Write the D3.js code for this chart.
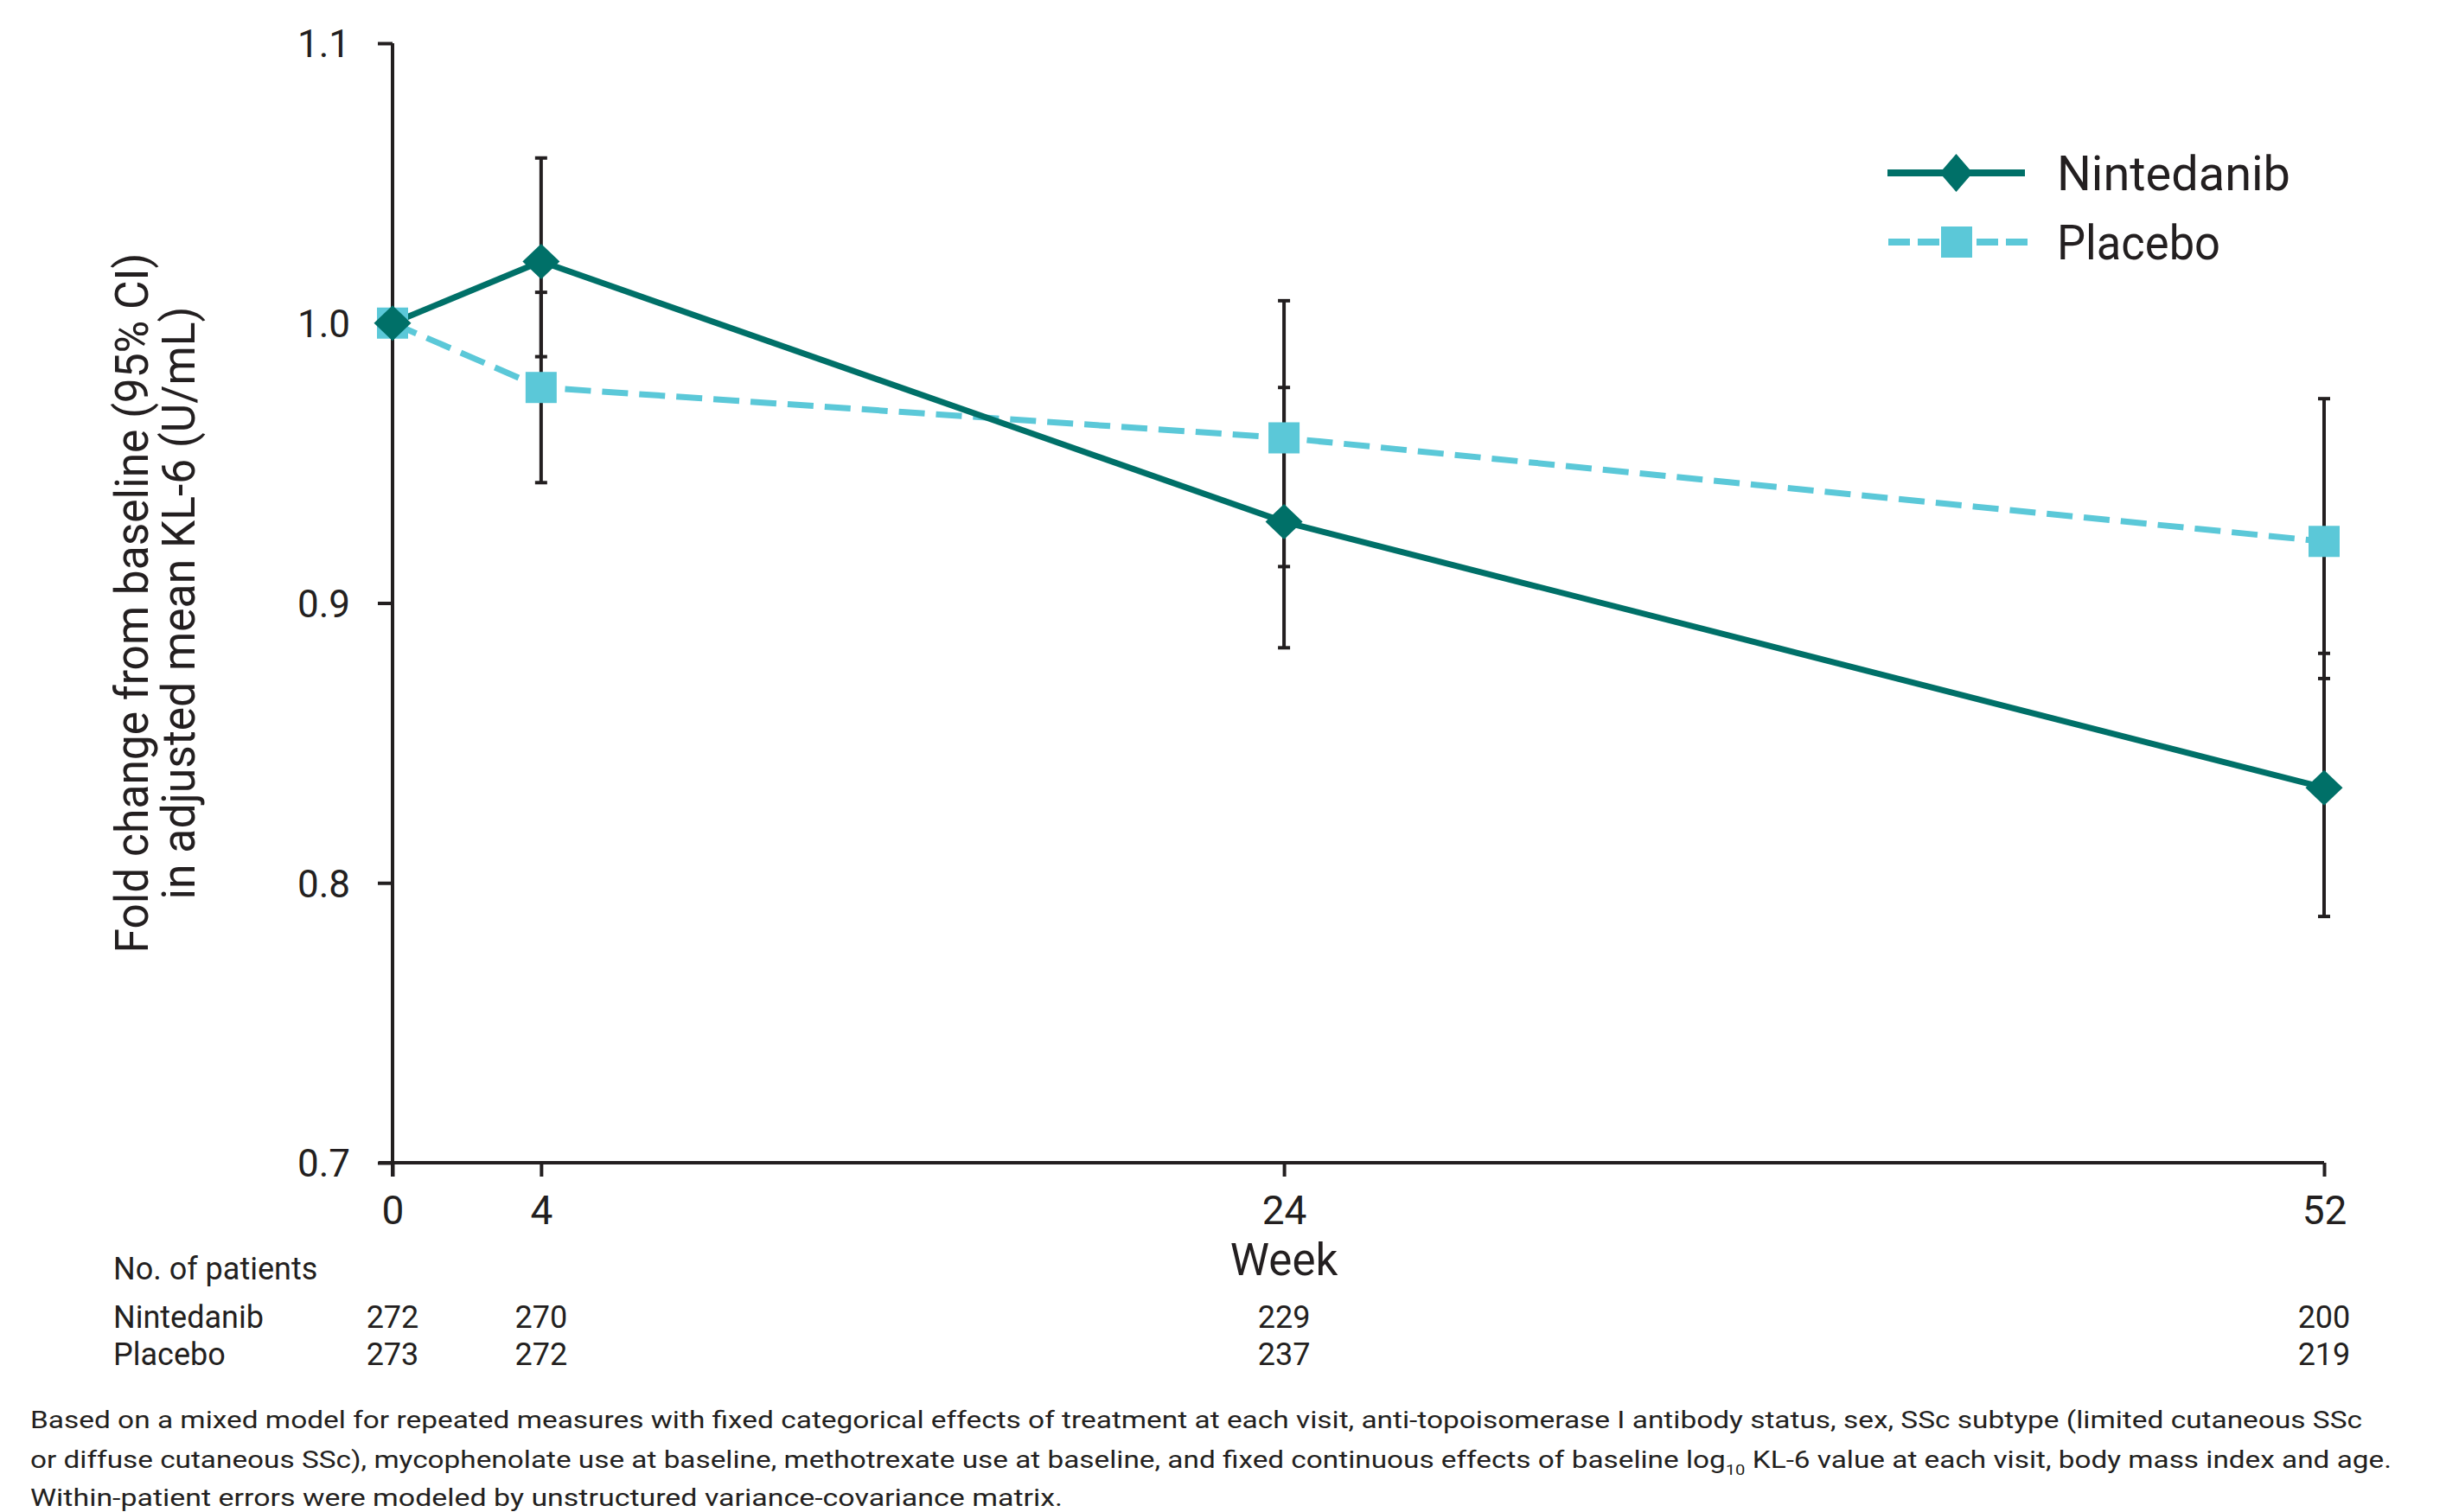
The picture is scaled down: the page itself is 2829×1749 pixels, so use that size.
<!DOCTYPE html>
<html>
<head>
<meta charset="utf-8">
<script src="https://cdn.jsdelivr.net/npm/d3@7"></script>
<style>
  html, body { margin: 0; padding: 0; background: #fff; }
  svg { display: block; font-family: Roboto, "Noto Sans", sans-serif; }
</style>
</head>
<body>
<svg id="chart" width="2829" height="1749"></svg>
<script>
// Visit weeks and adjusted mean fold change in KL-6 with 95% CI
const weeks = [0, 4, 24, 52];
const nintedanibMean  = [1.0, 1.022, 0.929, 0.834];
const nintedanibLower = [null, 0.988, 0.884, 0.788];
const nintedanibUpper = [null, 1.059, 0.977, 0.882];
const placeboMean  = [1.0, 0.977, 0.959, 0.922];
const placeboLower = [null, 0.943, 0.913, 0.873];
const placeboUpper = [null, 1.011, 1.008, 0.973];

// Patients at risk per visit
const nintedanibN = [272, 270, 229, 200];
const placeboN    = [273, 272, 237, 219];

const yTicks = [0.7, 0.8, 0.9, 1.0, 1.1];
const seriesNames = ["Nintedanib", "Placebo"];

const footnoteLines = [
  "Based on a mixed model for repeated measures with fixed categorical effects of treatment at each visit, anti-topoisomerase I antibody status, sex, SSc subtype (limited cutaneous SSc",
  ["or diffuse cutaneous SSc), mycophenolate use at baseline, methotrexate use at baseline, and fixed continuous effects of baseline log", "10", " KL-6 value at each visit, body mass index and age."],
  "Within-patient errors were modeled by unstructured variance-covariance matrix."
];

const INK = "#231f20";
const TEAL = "#007068";
const CYAN = "#5bc8d8";

const svg = d3.select("#chart");

const x = d3.scaleLinear().domain([0, 52]).range([454, 2688]);
const y = d3.scaleLinear().domain([0.7, 1.1]).range([1345, 50]);

// ---- Axes ----
const yAxis = d3.axisLeft(y).tickValues(yTicks).tickFormat(d3.format(".1f"))
  .tickSize(17).tickSizeOuter(0).tickPadding(32);
const gy = svg.append("g").attr("transform", `translate(${x(0)},0)`).call(yAxis);
gy.select(".domain").remove();
gy.append("line").attr("x1", 0).attr("x2", 0).attr("y1", y(1.1)).attr("y2", y(0.7) + 16)
  .attr("stroke", INK).attr("stroke-width", 4);
gy.selectAll(".tick line").attr("stroke", INK).attr("stroke-width", 4);
gy.selectAll(".tick text").attr("fill", INK).attr("font-size", 44)
  .attr("font-family", "Roboto").attr("dy", "0.36em");

const xAxis = d3.axisBottom(x).tickValues(weeks).tickFormat(d3.format("d"))
  .tickSize(16).tickSizeOuter(0).tickPadding(22);
const gx = svg.append("g").attr("transform", `translate(0,${y(0.7)})`).call(xAxis);
gx.select(".domain").remove();
gx.append("line").attr("x1", x(0) - 16).attr("x2", x(52)).attr("y1", 0).attr("y2", 0)
  .attr("stroke", INK).attr("stroke-width", 4);
gx.selectAll(".tick line").attr("stroke", INK).attr("stroke-width", 4);
gx.selectAll(".tick text").attr("fill", INK).attr("font-size", 46)
  .attr("font-family", "Roboto").attr("dy", "0.71em");

svg.append("text").attr("x", x(24)).attr("y", 1475).attr("text-anchor", "middle")
  .attr("font-size", 51).attr("fill", INK).text("Week");

// Y axis title (two rotated lines)
const yTitle = [
  { text: "Fold change from baseline (95% CI)", bx: 171, len: 810 },
  { text: "in adjusted mean KL-6 (U/mL)", bx: 225, len: 686 }
];
yTitle.forEach(t => {
  svg.append("text")
    .attr("transform", `translate(${t.bx},${(y(0.7) + y(1.1)) / 2}) rotate(-90)`)
    .attr("text-anchor", "middle").attr("font-size", 54).attr("fill", INK)
    .attr("textLength", t.len).attr("lengthAdjust", "spacingAndGlyphs")
    .text(t.text);
});

// ---- Data marks ----
const nintedanib = weeks.map((w, i) => ({ w, m: nintedanibMean[i], lo: nintedanibLower[i], hi: nintedanibUpper[i] }));
const placebo = weeks.map((w, i) => ({ w, m: placeboMean[i], lo: placeboLower[i], hi: placeboUpper[i] }));

const capHalf = 7;
function errorBars(data) {
  const g = svg.append("g").attr("stroke", INK).attr("stroke-width", 4);
  data.filter(d => d.lo != null).forEach(d => {
    g.append("line").attr("x1", x(d.w)).attr("x2", x(d.w)).attr("y1", y(d.lo)).attr("y2", y(d.hi));
    [d.lo, d.hi].forEach(v => g.append("line")
      .attr("x1", x(d.w) - capHalf).attr("x2", x(d.w) + capHalf)
      .attr("y1", y(v)).attr("y2", y(v)));
  });
}
errorBars(placebo);
errorBars(nintedanib);

const line = d3.line().x(d => x(d.w)).y(d => y(d.m));

svg.append("path").datum(placebo).attr("d", line).attr("fill", "none")
  .attr("stroke", CYAN).attr("stroke-width", 7).attr("stroke-dasharray", "30,13");
svg.append("path").datum(nintedanib).attr("d", line).attr("fill", "none")
  .attr("stroke", TEAL).attr("stroke-width", 7);

const sq = 36;
function squareMark(g, cx, cy) {
  g.append("rect").attr("x", cx - sq / 2).attr("y", cy - sq / 2)
    .attr("width", sq).attr("height", sq).attr("fill", CYAN);
}
const dw = 21.5, dh = 20.5;
function diamondMark(g, cx, cy, w = dw, h = dh) {
  g.append("path")
    .attr("d", `M${cx},${cy - h}L${cx + w},${cy}L${cx},${cy + h}L${cx - w},${cy}Z`)
    .attr("fill", TEAL);
}
const markers = svg.append("g");
placebo.forEach(d => squareMark(markers, x(d.w), y(d.m)));
nintedanib.forEach(d => diamondMark(markers, x(d.w), y(d.m)));

// ---- Legend ----
const legend = svg.append("g");
const legY = [200, 280];
legend.append("line").attr("x1", 2183).attr("x2", 2342).attr("y1", legY[0]).attr("y2", legY[0])
  .attr("stroke", TEAL).attr("stroke-width", 8);
diamondMark(legend, 2262.5, legY[0], 19, 22);
legend.append("line").attr("x1", 2184).attr("x2", 2347).attr("y1", legY[1]).attr("y2", legY[1])
  .attr("stroke", CYAN).attr("stroke-width", 8).attr("stroke-dasharray", "25,9");
squareMark(legend, 2263, legY[1]);
legend.append("text").attr("x", 2379).attr("y", legY[0] + 20).attr("font-size", 56)
  .attr("fill", INK).attr("textLength", 270).attr("lengthAdjust", "spacingAndGlyphs")
  .text(seriesNames[0]);
legend.append("text").attr("x", 2379).attr("y", legY[1] + 20).attr("font-size", 56)
  .attr("fill", INK).attr("textLength", 189).attr("lengthAdjust", "spacingAndGlyphs")
  .text(seriesNames[1]);

// ---- Patients-at-risk table ----
const table = svg.append("g").attr("font-size", 36).attr("fill", INK);
table.append("text").attr("x", 131).attr("y", 1480).text("No. of patients");
[[seriesNames[0], nintedanibN, 1536], [seriesNames[1], placeboN, 1579]].forEach(([name, counts, by]) => {
  table.append("text").attr("x", 131).attr("y", by).text(name);
  counts.forEach((c, i) => table.append("text").attr("x", x(weeks[i])).attr("y", by)
    .attr("text-anchor", "middle").text(c));
});

// ---- Footnote ----
const foot = svg.append("g").attr("font-size", 28).attr("fill", INK);
const footBase = [1652, 1698, 1742];
const footLen = [2697, 2731, 1194];
footnoteLines.forEach((ln, i) => {
  const t = foot.append("text").attr("x", 35).attr("y", footBase[i])
    .attr("textLength", footLen[i]).attr("lengthAdjust", "spacingAndGlyphs");
  if (Array.isArray(ln)) {
    t.append("tspan").text(ln[0]);
    t.append("tspan").attr("font-size", 17).attr("dy", 8).text(ln[1]);
    t.append("tspan").attr("dy", -8).text(ln[2]);
  } else {
    t.text(ln);
  }
});
</script>
</body>
</html>
